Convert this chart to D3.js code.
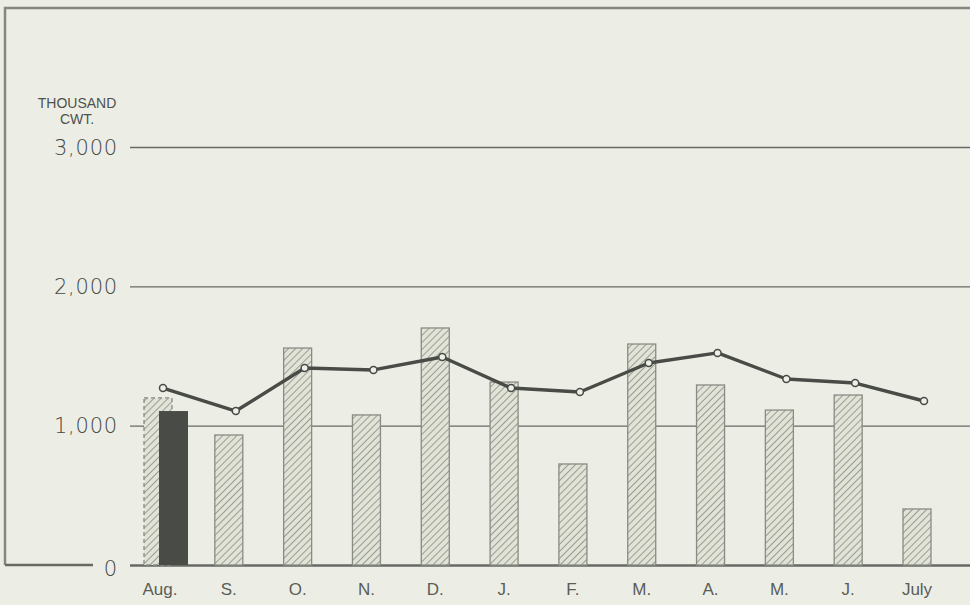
<!DOCTYPE html>
<html>
<head>
<meta charset="utf-8">
<script src="https://cdn.jsdelivr.net/npm/d3@7"></script>
<style>
  body { margin: 0; background: #eceee5; }
  svg { display: block; }
</style>
</head>
<body>
<div id="chart"></div>
<script>
// Chart data
const months = ['Aug.', 'S.', 'O.', 'N.', 'D.', 'J.', 'F.', 'M.', 'A.', 'M.', 'J.', 'July'];
const barValues = [1199, 933, 1557, 1077, 1701, 1313, 725, 1586, 1292, 1112, 1220, 402];
const currentValues = [1105]; // dark bar, August only
const lineValues = [1270, 1105, 1414, 1400, 1493, 1270, 1242, 1450, 1522, 1335, 1306, 1177];
const yTicks = [0, 1000, 2000, 3000];

const width = 970;
const height = 605;
const ink = '#484b46';

const svg = d3.select('#chart')
  .append('svg')
  .attr('width', width)
  .attr('height', height);

// hatch pattern for the bars
const defs = svg.append('defs');
const pat = defs.append('pattern')
  .attr('id', 'hatch')
  .attr('patternUnits', 'userSpaceOnUse')
  .attr('width', 5)
  .attr('height', 5)
  .attr('patternTransform', 'rotate(45)');
pat.append('rect')
  .attr('width', 5).attr('height', 5)
  .attr('fill', '#e0e3d6');
pat.append('line')
  .attr('x1', 0).attr('y1', 0)
  .attr('x2', 0).attr('y2', 5)
  .attr('stroke', '#82857d')
  .attr('stroke-width', 1.5);

const idx = d3.range(months.length);

const x = d3.scalePoint()
  .domain(idx)
  .range([160, 917]);

const y = d3.scaleLinear()
  .domain([0, 3000])
  .range([565, 147]);

const barW = 28;

// frame
svg.append('path')
  .attr('d', `M5,${y(0)} V8 H${width}`)
  .attr('fill', 'none')
  .attr('stroke', '#858780')
  .attr('stroke-width', 2.5);

// gridlines + tick labels
const axis = svg.append('g')
  .attr('transform', 'translate(130,0)')
  .call(d3.axisLeft(y)
    .tickValues(yTicks)
    .tickSize(-(width - 130))
    .tickPadding(12)
    .tickFormat(d3.format(',')));

axis.select('.domain').remove();
axis.selectAll('.tick line')
  .attr('stroke', '#676964')
  .attr('stroke-width', d => d === 0 ? 2.4 : 1.4);
axis.selectAll('.tick text')
  .attr('fill', '#454743')
  .style('font-family', '"DejaVu Sans", "Liberation Sans", sans-serif')
  .style('font-weight', 200)
  .style('font-size', '21px')
  .style('letter-spacing', '0.8px')
  .attr('dy', d => d === 0 ? '0.5em' : '0.34em');

// zero line continues to the left of the "0"
svg.append('line')
  .attr('x1', 5).attr('x2', 93)
  .attr('y1', y(0)).attr('y2', y(0))
  .attr('stroke', '#676964')
  .attr('stroke-width', 2.4);

// unit label
svg.append('text')
  .attr('x', 77).attr('y', 108)
  .attr('text-anchor', 'middle')
  .attr('fill', '#4f514d')
  .style('font-family', '"Liberation Sans Narrow", "Liberation Sans", Arial, sans-serif')
  .style('font-size', '14px')
  .selectAll('tspan')
  .data(['THOUSAND', 'CWT.'])
  .join('tspan')
  .attr('x', 77)
  .attr('dy', (d, i) => i === 0 ? 0 : 16)
  .text(d => d);

// hatched bars
svg.selectAll('.bar')
  .data(barValues)
  .join('rect')
  .attr('class', 'bar')
  .attr('x', (d, i) => x(i) - barW / 2 - (i === 0 ? 2 : 0))
  .attr('y', d => y(d))
  .attr('width', barW)
  .attr('height', d => y(0) - y(d))
  .attr('fill', 'url(#hatch)')
  .attr('stroke', '#898c84')
  .attr('stroke-width', 1.3)
  .attr('stroke-dasharray', (d, i) => i === 0 ? '4 3' : null);

// current-year bar (dark)
svg.selectAll('.current')
  .data(currentValues)
  .join('rect')
  .attr('class', 'current')
  .attr('x', (d, i) => x(i) - 1)
  .attr('y', d => y(d))
  .attr('width', barW + 1)
  .attr('height', d => y(0) - y(d))
  .attr('fill', ink);

// average line
const lineX = i => x(i) + (i === 0 ? 3 : 7);
const line = d3.line()
  .x((d, i) => lineX(i))
  .y(d => y(d));

svg.append('path')
  .datum(lineValues)
  .attr('d', line)
  .attr('fill', 'none')
  .attr('stroke', ink)
  .attr('stroke-width', 3.4)
  .attr('stroke-linejoin', 'round');

svg.selectAll('.dot')
  .data(lineValues)
  .join('circle')
  .attr('class', 'dot')
  .attr('cx', (d, i) => lineX(i))
  .attr('cy', d => y(d))
  .attr('r', 3.5)
  .attr('fill', '#eef0e8')
  .attr('stroke', ink)
  .attr('stroke-width', 1.5);

// month labels
svg.selectAll('.month')
  .data(months)
  .join('text')
  .attr('class', 'month')
  .attr('x', (d, i) => x(i))
  .attr('y', 595)
  .attr('text-anchor', 'middle')
  .attr('fill', '#5a5c58')
  .style('font-family', '"Liberation Sans Narrow", "Liberation Sans", Arial, sans-serif')
  .style('font-size', '17px')
  .text(d => d);
</script>
</body>
</html>
